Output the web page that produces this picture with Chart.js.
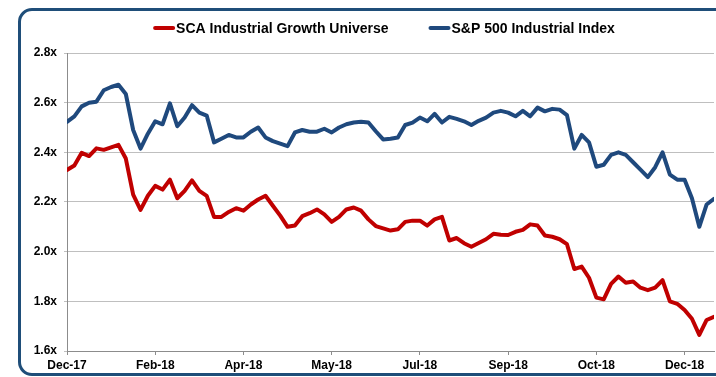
<!DOCTYPE html>
<html>
<head>
<meta charset="utf-8">
<script src="https://cdn.jsdelivr.net/npm/chart.js@4/dist/chart.umd.min.js"></script>
<style>
  html, body { margin: 0; padding: 0; width: 716px; height: 377px; overflow: hidden; background: #ffffff; }
  #frame {
    position: absolute; left: 18px; top: 8px; width: 780px; height: 368px;
    box-sizing: border-box; border: 3px solid #1F4E79; border-radius: 14px; background: #ffffff;
  }
  #chart { position: absolute; left: 18px; top: 0; }
</style>
</head>
<body>
<div id="frame"></div>
<canvas id="chart" width="732" height="377"></canvas>
<script>
// Trading-day valuation multiples, one point per sample, Dec-17 through Dec-18
const tickLabels = ['Dec-17', 'Feb-18', 'Apr-18', 'May-18', 'Jul-18', 'Sep-18', 'Oct-18', 'Dec-18'];
const pointsPerTick = 12;

const scaGrowth = [
  2.329, 2.347, 2.398, 2.385, 2.416, 2.410, 2.420, 2.430, 2.375, 2.230,
  2.168, 2.225, 2.265, 2.250, 2.290, 2.215, 2.245, 2.287, 2.245, 2.225,
  2.140, 2.140, 2.160, 2.175, 2.165, 2.190, 2.210, 2.225, 2.185, 2.145,
  2.100, 2.105, 2.143, 2.155, 2.170, 2.150, 2.120, 2.140, 2.170, 2.178,
  2.165, 2.130, 2.103, 2.094, 2.085, 2.090, 2.120, 2.125, 2.125, 2.105,
  2.130, 2.140, 2.045, 2.055, 2.034, 2.020, 2.035, 2.050, 2.072, 2.068,
  2.067, 2.080, 2.088, 2.110, 2.105, 2.065, 2.060, 2.050, 2.030, 1.930,
  1.940, 1.895, 1.815, 1.808, 1.870, 1.900, 1.875, 1.880, 1.855, 1.845,
  1.855, 1.885, 1.800, 1.790, 1.765, 1.730, 1.665, 1.725, 1.738
];

const sp500Industrial = [
  2.523, 2.545, 2.585, 2.600, 2.604, 2.650, 2.663, 2.672, 2.635, 2.490,
  2.415, 2.475, 2.525, 2.513, 2.597, 2.505, 2.540, 2.590, 2.560, 2.548,
  2.440, 2.455, 2.470, 2.460, 2.460, 2.483, 2.500, 2.460, 2.445, 2.435,
  2.425, 2.480, 2.490, 2.483, 2.483, 2.495, 2.480, 2.500, 2.513, 2.520,
  2.523, 2.520, 2.485, 2.452, 2.455, 2.460, 2.510, 2.520, 2.540, 2.525,
  2.555, 2.520, 2.543, 2.535, 2.525, 2.510, 2.527, 2.540, 2.560, 2.567,
  2.560, 2.545, 2.567, 2.545, 2.580, 2.565, 2.575, 2.572, 2.550, 2.415,
  2.470, 2.440, 2.342, 2.350, 2.390, 2.400, 2.390, 2.360, 2.330, 2.300,
  2.340, 2.400, 2.310, 2.290, 2.290, 2.215, 2.100, 2.190, 2.213
];

const seriesNames = ['SCA Industrial Growth Universe', 'S&P 500 Industrial Index'];
const seriesColors = ['#C00000', '#1F497D'];

const toPoints = arr => arr.map((v, i) => ({ x: i, y: v }));

const FONT = '"Liberation Sans", Arial, sans-serif';

// Legend drawn as short thick line samples followed by bold labels, centred over the canvas
const lineLegend = {
  id: 'lineLegend',
  afterDraw(chart) {
    const ctx = chart.ctx;
    const y = 28;
    const capPad = 2, seg = 18, gap = 1, spacing = 40;
    ctx.save();
    ctx.font = 'bold 14px ' + FONT;
    const items = chart.data.datasets.map(ds => ({
      label: ds.label, color: ds.borderColor, w: ctx.measureText(ds.label).width
    }));
    const total = items.reduce((s, it) => s + capPad * 2 + seg + gap + it.w, 0) + spacing * (items.length - 1);
    let x = chart.width / 2 - total / 2;
    items.forEach(it => {
      ctx.strokeStyle = it.color;
      ctx.lineWidth = 4;
      ctx.lineCap = 'round';
      ctx.beginPath();
      ctx.moveTo(x + capPad, y);
      ctx.lineTo(x + capPad + seg, y);
      ctx.stroke();
      const tx = x + capPad * 2 + seg + gap;
      ctx.fillStyle = '#000000';
      ctx.textAlign = 'left';
      ctx.textBaseline = 'middle';
      ctx.fillText(it.label, tx, y + 1);
      x = tx + it.w + spacing;
    });
    ctx.restore();
  }
};

new Chart(document.getElementById('chart'), {
  type: 'line',
  data: {
    datasets: [
      { label: seriesNames[0], data: toPoints(scaGrowth), borderColor: seriesColors[0] },
      { label: seriesNames[1], data: toPoints(sp500Industrial), borderColor: seriesColors[1] }
    ].map(ds => Object.assign(ds, {
      borderWidth: 4, pointRadius: 0, pointHoverRadius: 0, tension: 0,
      borderJoinStyle: 'round', borderCapStyle: 'round', fill: false
    }))
  },
  options: {
    responsive: false,
    animation: false,
    devicePixelRatio: 1,
    layout: { padding: { left: 0, right: 36, top: 53, bottom: 0 } },
    plugins: { legend: { display: false }, tooltip: { enabled: false } },
    scales: {
      x: {
        type: 'linear',
        min: 0,
        max: scaGrowth.length - 1,
        afterFit: s => { s.height = 26; },
        grid: { drawOnChartArea: false, drawTicks: true, tickLength: 4, color: '#8C8C8C' },
        border: { display: true, color: '#8C8C8C', width: 1 },
        ticks: {
          stepSize: pointsPerTick,
          includeBounds: false,
          autoSkip: false,
          maxRotation: 0,
          padding: 3,
          color: '#000000',
          font: { family: FONT, size: 12, weight: 'bold' },
          callback: v => (v % pointsPerTick === 0 ? tickLabels[v / pointsPerTick] : null)
        }
      },
      y: {
        min: 1.6,
        max: 2.8,
        afterFit: s => { s.width = 49; },
        grid: { color: '#BFBFBF', lineWidth: 1, tickLength: 3 },
        border: { display: true, color: '#8C8C8C', width: 1 },
        ticks: {
          stepSize: 0.2,
          padding: 7,
          color: '#000000',
          font: { family: FONT, size: 12, weight: 'bold' },
          callback: v => v.toFixed(1) + 'x'
        }
      }
    }
  },
  plugins: [lineLegend]
});
</script>
</body>
</html>
